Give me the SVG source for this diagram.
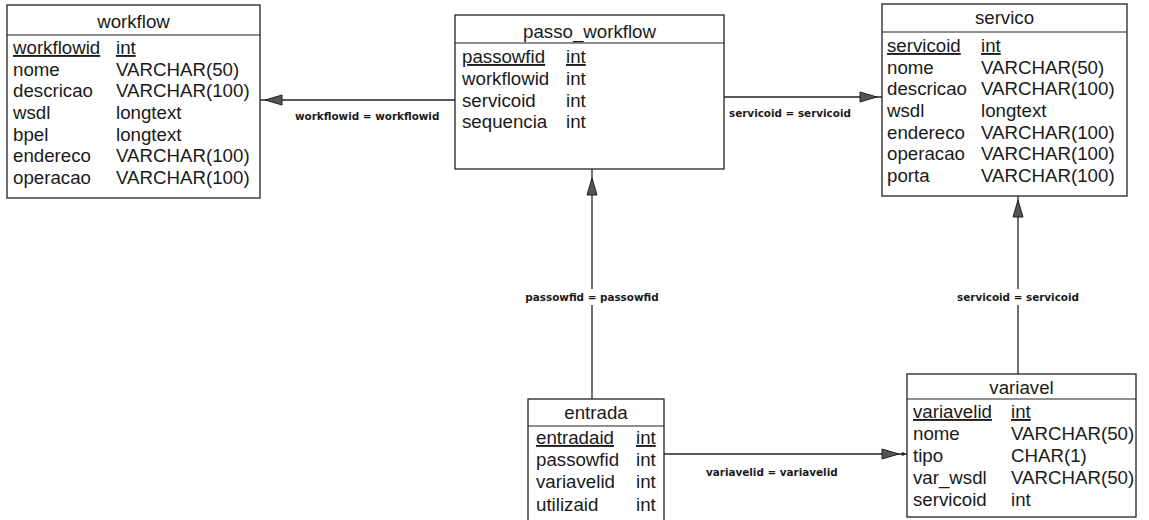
<svg xmlns="http://www.w3.org/2000/svg" width="1149" height="520" viewBox="0 0 1149 520">
<style>
.box{fill:#fff;stroke:#222;stroke-width:1.3}
.sep{stroke:#222;stroke-width:1.2}
.t{font-family:"Liberation Sans",Arial,sans-serif;font-size:18.7px;fill:#1a1a1a}
.title{text-anchor:middle}
.pk{text-decoration:underline}
.conn{stroke:#222;stroke-width:1.3;fill:none}
.lbl{font-family:"DejaVu Sans",Verdana,sans-serif;font-size:10.4px;font-weight:bold;fill:#1a1a1a}
.ah{fill:#555;stroke:#222;stroke-width:1}
</style>
<defs>
<path id="ah" d="M0,0 L-17,-5 L-17,5 Z"/>
</defs>
<g id="connectors">
<line class="conn" x1="260" y1="100" x2="455" y2="100"/>
<use href="#ah" class="ah" transform="translate(265,100) rotate(180)"/>
<text class="lbl" x="295" y="120">workflowid = workflowid</text>
<line class="conn" x1="724" y1="97" x2="882" y2="97"/>
<use href="#ah" class="ah" transform="translate(877,97)"/>
<text class="lbl" x="729" y="117">servicoid = servicoid</text>
<line class="conn" x1="592" y1="169" x2="592" y2="399"/>
<use href="#ah" class="ah" transform="translate(592,178) rotate(-90)"/>
<rect x="519" y="289" width="146" height="16" fill="#fff"/>
<text class="lbl" x="592" y="301" text-anchor="middle">passowfid = passowfid</text>
<line class="conn" x1="1018" y1="196" x2="1018" y2="374"/>
<use href="#ah" class="ah" transform="translate(1018,200) rotate(-90)"/>
<rect x="950" y="289" width="136" height="16" fill="#fff"/>
<text class="lbl" x="1018" y="301" text-anchor="middle">servicoid = servicoid</text>
<line class="conn" x1="664" y1="454" x2="907" y2="454"/>
<use href="#ah" class="ah" transform="translate(899,454)"/>
<circle cx="903" cy="454" r="1.8" fill="#222"/>
<text class="lbl" x="706" y="476">variavelid = variavelid</text>
</g>
<g id="workflow">
<rect class="box" x="7" y="5" width="253" height="193"/>
<line class="sep" x1="7" y1="35" x2="260" y2="35"/>
<text class="t title" x="133.5" y="28">workflow</text>
<text class="t pk" x="13" y="54">workflowid</text><text class="t pk" x="116" y="54">int</text>
<text class="t" x="13" y="76">nome</text><text class="t" x="116" y="76">VARCHAR(50)</text>
<text class="t" x="13" y="97">descricao</text><text class="t" x="116" y="97">VARCHAR(100)</text>
<text class="t" x="13" y="119">wsdl</text><text class="t" x="116" y="119">longtext</text>
<text class="t" x="13" y="141">bpel</text><text class="t" x="116" y="141">longtext</text>
<text class="t" x="13" y="162">endereco</text><text class="t" x="116" y="162">VARCHAR(100)</text>
<text class="t" x="13" y="184">operacao</text><text class="t" x="116" y="184">VARCHAR(100)</text>
</g>
<g id="passo_workflow">
<rect class="box" x="455" y="15" width="269" height="154"/>
<line class="sep" x1="455" y1="43" x2="724" y2="43"/>
<text class="t title" x="589.5" y="38">passo_workflow</text>
<text class="t pk" x="462" y="63">passowfid</text><text class="t pk" x="566" y="63">int</text>
<text class="t" x="462" y="85">workflowid</text><text class="t" x="566" y="85">int</text>
<text class="t" x="462" y="107">servicoid</text><text class="t" x="566" y="107">int</text>
<text class="t" x="462" y="128">sequencia</text><text class="t" x="566" y="128">int</text>
</g>
<g id="servico">
<rect class="box" x="882" y="4" width="245" height="192"/>
<line class="sep" x1="882" y1="32" x2="1127" y2="32"/>
<text class="t title" x="1004.5" y="24">servico</text>
<text class="t pk" x="887" y="52">servicoid</text><text class="t pk" x="981" y="52">int</text>
<text class="t" x="887" y="74">nome</text><text class="t" x="981" y="74">VARCHAR(50)</text>
<text class="t" x="887" y="95">descricao</text><text class="t" x="981" y="95">VARCHAR(100)</text>
<text class="t" x="887" y="117">wsdl</text><text class="t" x="981" y="117">longtext</text>
<text class="t" x="887" y="139">endereco</text><text class="t" x="981" y="139">VARCHAR(100)</text>
<text class="t" x="887" y="160">operacao</text><text class="t" x="981" y="160">VARCHAR(100)</text>
<text class="t" x="887" y="182">porta</text><text class="t" x="981" y="182">VARCHAR(100)</text>
</g>
<g id="entrada">
<rect class="box" x="528" y="399" width="136" height="130"/>
<line class="sep" x1="528" y1="426" x2="664" y2="426"/>
<text class="t title" x="596" y="419">entrada</text>
<text class="t pk" x="536" y="444">entradaid</text><text class="t pk" x="636" y="444">int</text>
<text class="t" x="536" y="466">passowfid</text><text class="t" x="636" y="466">int</text>
<text class="t" x="536" y="488">variavelid</text><text class="t" x="636" y="488">int</text>
<text class="t" x="536" y="511">utilizaid</text><text class="t" x="636" y="511">int</text>
</g>
<g id="variavel">
<rect class="box" x="907" y="374" width="229" height="143"/>
<line class="sep" x1="907" y1="399" x2="1136" y2="399"/>
<text class="t title" x="1021.5" y="394">variavel</text>
<text class="t pk" x="913" y="418">variavelid</text><text class="t pk" x="1011" y="418">int</text>
<text class="t" x="913" y="440">nome</text><text class="t" x="1011" y="440">VARCHAR(50)</text>
<text class="t" x="913" y="462">tipo</text><text class="t" x="1011" y="462">CHAR(1)</text>
<text class="t" x="913" y="484">var_wsdl</text><text class="t" x="1011" y="484">VARCHAR(50)</text>
<text class="t" x="913" y="506">servicoid</text><text class="t" x="1011" y="506">int</text>
</g>
</svg>
